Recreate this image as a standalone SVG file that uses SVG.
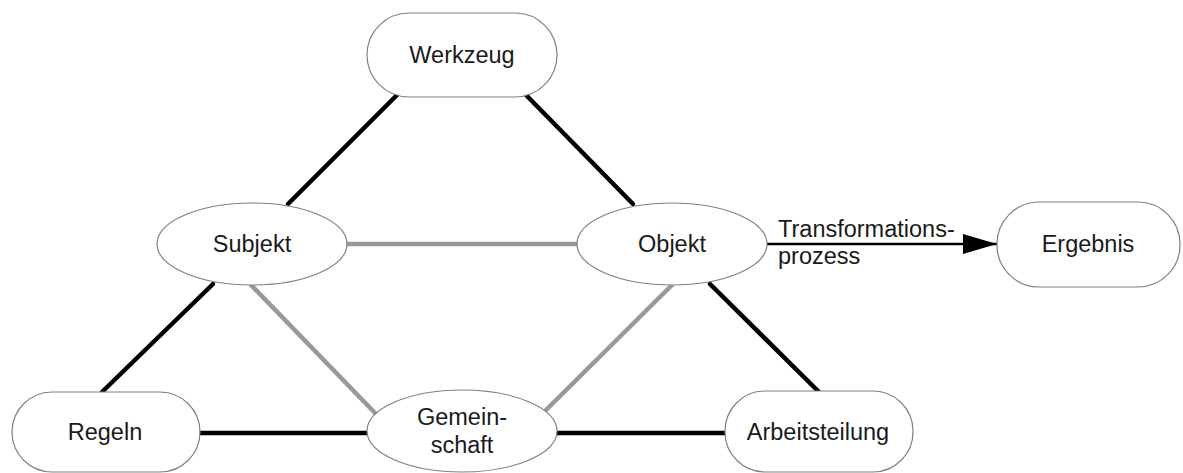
<svg xmlns="http://www.w3.org/2000/svg" width="1183" height="473" viewBox="0 0 1183 473">
<style>
.n{fill:#fff;stroke:#808080;stroke-width:1.2}
.t{font-family:"Liberation Sans",Arial,sans-serif;font-size:23.5px;fill:#1a1a1a;text-anchor:middle}
.b{stroke:#000;stroke-width:4.5;fill:none;stroke-linecap:round}
.g{stroke:#999;stroke-width:4.5;fill:none;stroke-linecap:round}
</style>
<defs>
<marker id="ah" markerWidth="36" markerHeight="20" refX="34" refY="10" orient="auto" markerUnits="userSpaceOnUse">
<path d="M0,0 L34,10 L0,20 Z" fill="#000"/>
</marker>
</defs>
<rect width="1183" height="473" fill="#fff"/>
<g id="connectors">
<line class="b" x1="397" y1="95" x2="288" y2="204"/>
<line class="b" x1="526" y1="95" x2="633" y2="204"/>
<line class="b" x1="213" y1="284" x2="102" y2="392"/>
<line class="b" x1="710" y1="284" x2="819" y2="392"/>
<line class="b" x1="200" y1="433" x2="367" y2="433"/>
<line class="b" x1="557" y1="433" x2="726" y2="433"/>
<line class="g" x1="347" y1="244" x2="577" y2="244"/>
<line class="g" x1="251" y1="285" x2="376" y2="414"/>
<line class="g" x1="672" y1="285" x2="543" y2="413"/>
<line stroke="#000" stroke-width="2.5" x1="767" y1="244" x2="997" y2="244" marker-end="url(#ah)"/>
<text class="t" style="text-anchor:start" x="778" y="237">Transformations-</text>
<text class="t" style="text-anchor:start" x="778" y="264">prozess</text>
</g>
<g id="werkzeug">
<rect class="n" x="367" y="13" width="190" height="84" rx="42"/>
<text class="t" x="462" y="63">Werkzeug</text>
</g>
<g id="subjekt">
<ellipse class="n" cx="252" cy="244" rx="95" ry="41"/>
<text class="t" x="252" y="252">Subjekt</text>
</g>
<g id="objekt">
<ellipse class="n" cx="672" cy="244" rx="95" ry="41"/>
<text class="t" x="672" y="252">Objekt</text>
</g>
<g id="ergebnis">
<rect class="n" x="997" y="202" width="183" height="85" rx="42"/>
<text class="t" x="1088" y="252">Ergebnis</text>
</g>
<g id="regeln">
<rect class="n" x="12" y="392" width="188" height="80" rx="40"/>
<text class="t" x="105" y="440">Regeln</text>
</g>
<g id="gemeinschaft">
<ellipse class="n" cx="462" cy="431" rx="95" ry="41"/>
<text class="t" x="462" y="425">Gemein-</text>
<text class="t" x="462" y="453">schaft</text>
</g>
<g id="arbeitsteilung">
<rect class="n" x="725" y="391" width="188" height="81" rx="40"/>
<text class="t" x="818" y="440">Arbeitsteilung</text>
</g>
</svg>
